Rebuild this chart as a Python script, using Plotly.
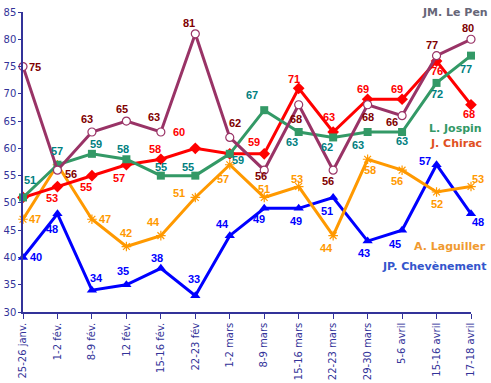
import plotly.graph_objects as go

categories = ["25-26 janv.", "1-2 fév.", "8-9 fév.", "12 fév.", "15-16 fév.", "22-23 fév",
              "1-2 mars", "8-9 mars", "15-16 mars", "22-23 mars", "29-30 mars",
              "5-6 avril", "15-16 avril", "17-18 avril"]

lepen = [75, 56, 63, 65, 63, 81, 62, 56, 68, 56, 68, 66, 77, 80]
jospin = [51, 57, 59, 58, 55, 55, 59, 67, 63, 62, 63, 63, 72, 77]
chirac = [51, 53, 55, 57, 58, 60, 59, 59, 71, 63, 69, 69, 76, 68]
laguiller = [47, 57, 47, 42, 44, 51, 57, 51, 53, 44, 58, 56, 52, 53]
chevenement = [40, 48, 34, 35, 38, 33, 44, 49, 49, 51, 43, 45, 57, 48]

# data-label offsets in pixels (dx, dy; dy positive = downward); None = label hidden
lepen_lbl = [(12, 0), (14, 4), (-5, -13), (-4, -12), (-7, -15), (-6, -11), (5, -14),
             (-3, 6), (-3, 14), (-5, 11), (0, 12), (-10, 6), (-5, -11), (-3, -11)]
jospin_lbl = [(7, -17), (0, -14), (4, -10), (-3, -10), (0, -9), (-7, -9), (8, 6),
              (-12, -15), (-7, 10), (-6, 10), (-10, 13), (0, 9), (0, 11), (-5, 13)]
chirac_lbl = [None, (-5, 11), (-6, 11), (-7, 13), (-6, -10), (-16, -16), None,
              (-10, -12), (-5, -9), (-4, -15), (-5, -10), (-5, -10), (0, 10), (-2, 9)]
laguiller_lbl = [(12, 0), None, (13, 0), (0, -14), (-7, -14), (-16, -4), (-7, 14),
                 (0, -8), (-2, -8), (-7, 12), (2, 11), (-5, 11), (0, 12), (7, -8)]
chevenement_lbl = [(13, 0), (-5, 15), (5, -12), (-3, -14), (-4, -10), (-1, -17), (-7, -12),
                   (-5, 11), (-3, 13), (-6, 14), (-4, 12), (-7, 14), (-12, -4), (7, 8)]

fig = go.Figure()

series = [
    ("JP. Chevènement", chevenement, chevenement_lbl, "#0000FF", "#0000FF",
     dict(symbol="triangle-up", size=9, color="#0000FF", line=dict(width=0))),
    ("A. Laguiller", laguiller, laguiller_lbl, "#FF9900", "#FF9900",
     dict(symbol="asterisk-open", size=8, color="#FF9900", line=dict(color="#FF9900", width=1.2))),
    ("J. Chirac", chirac, chirac_lbl, "#FF0000", "#FF0000",
     dict(symbol="diamond", size=9, color="#FF0000", line=dict(width=0))),
    ("L. Jospin", jospin, jospin_lbl, "#339966", "#008080",
     dict(symbol="square", size=8, color="#339966", line=dict(width=0))),
    ("JM. Le Pen", lepen, lepen_lbl, "#993366", "#800000",
     dict(symbol="circle", size=8, color="white", line=dict(color="#993366", width=1.2))),
]

for name, vals, lbl, lc, tc, mk in series:
    fig.add_trace(go.Scatter(
        x=categories, y=vals, name=name,
        mode="lines+markers",
        line=dict(color=lc, width=3),
        marker=mk,
        cliponaxis=False,
        showlegend=False,
    ))
    for cat, v, off in zip(categories, vals, lbl):
        if off is None:
            continue
        fig.add_annotation(
            x=cat, y=v, xref="x", yref="y", text=str(v), showarrow=False,
            xshift=off[0], yshift=-off[1],
            font=dict(family="Liberation Sans", size=11, color=tc, weight="bold"),
        )

axis_color = "#333399"
fig.update_xaxes(
    type="category", range=[0, 13], automargin=False,
    showline=True, linecolor=axis_color, linewidth=1.5,
    ticks="outside", ticklen=5, tickcolor=axis_color, tickwidth=1,
    tickangle=-90, showgrid=False, zeroline=False,
    tickfont=dict(family="DejaVu Sans", size=10, color=axis_color),
)
fig.update_yaxes(
    range=[30, 85], dtick=5, automargin=False,
    showline=True, linecolor=axis_color, linewidth=1.5,
    ticks="outside", ticklen=3, tickcolor=axis_color, tickwidth=1,
    showgrid=False, zeroline=False,
    tickfont=dict(family="DejaVu Sans", size=10, color=axis_color),
)

legend_names = ["JM. Le Pen", "L. Jospin", "J. Chirac", "A. Laguiller", "JP. Chevènement"]
legend_colors = ["#666677", "#339966", "#E0501E", "#F09A30", "#3355CC"]
legend_xy = [(1.042, 1.0), (1.03, 0.613), (1.03, 0.563), (1.037, 0.22), (1.037, 0.153)]
for t, c, (x, y) in zip(legend_names, legend_colors, legend_xy):
    fig.add_annotation(
        text=t, xref="paper", yref="paper", x=x, y=y,
        xanchor="right", yanchor="middle", showarrow=False,
        font=dict(family="DejaVu Sans", size=11, color=c, weight="bold"),
    )

fig.update_layout(
    width=491, height=383,
    margin=dict(l=23, r=20, t=12, b=71),
    paper_bgcolor="white", plot_bgcolor="white",
)

fig.write_html("out.html", config={"displayModeBar": False},
               post_script="document.body.style.margin='0';")
